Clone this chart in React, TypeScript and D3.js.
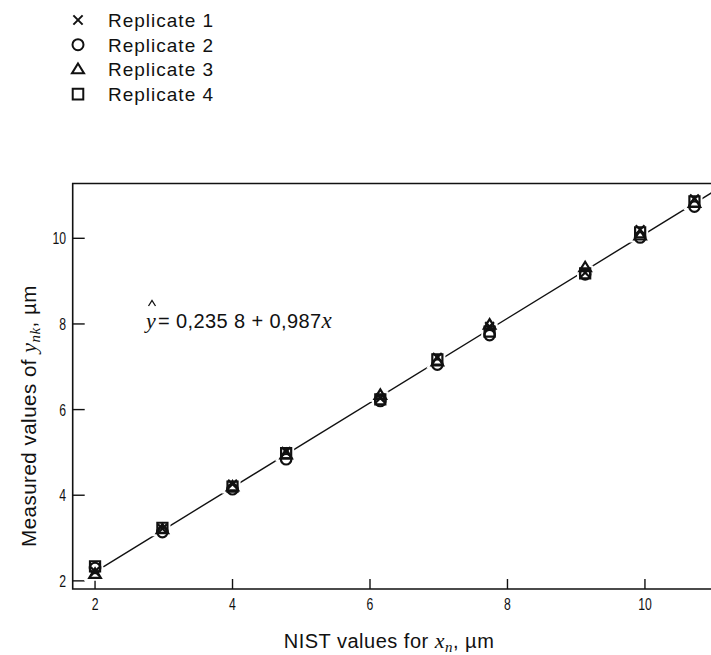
import React from "react";
import * as d3 from "d3";

const nistX = [2.0, 2.98, 4.0, 4.78, 6.15, 6.98, 7.74, 9.13, 9.93, 10.72];
const replicate1 = [2.22, 3.22, 4.26, 5.02, 6.27, 7.22, 7.94, 9.2, 10.2, 10.92];
const replicate2 = [2.3, 3.14, 4.14, 4.84, 6.2, 7.05, 7.74, 9.16, 10.02, 10.74];
const replicate3 = [2.16, 3.2, 4.2, 4.95, 6.34, 7.12, 7.98, 9.32, 10.06, 10.82];
const replicate4 = [2.34, 3.24, 4.2, 4.98, 6.24, 7.17, 7.82, 9.18, 10.14, 10.86];
const xTicks = [2, 4, 6, 8, 10];
const yTicks = [2, 4, 6, 8, 10];
const seriesNames = ["Replicate 1", "Replicate 2", "Replicate 3", "Replicate 4"];
const fitIntercept = 0.2358;
const fitSlope = 0.987;

const W = 711;
const H = 655;
const L = 72.7;
const R = 713;
const T = 183.5;
const B = 589;

const x = d3.scaleLinear().domain([1.675, 10.99]).range([L, R]);
const y = d3.scaleLinear().domain([1.81, 11.28]).range([B, T]);

function markerPath(kind: number, s: number): string {
  const p = d3.path();
  if (kind === 0) {
    const r = s * 0.42;
    p.moveTo(-r, -r); p.lineTo(r, r);
    p.moveTo(-r, r); p.lineTo(r, -r);
  } else if (kind === 1) {
    const r = s * 0.5;
    p.moveTo(r, 0); p.arc(0, 0, r, 0, Math.PI * 2);
  } else if (kind === 2) {
    const h = s * 0.9;
    const half = s * 0.55;
    p.moveTo(0, -h * 0.6); p.lineTo(half, h * 0.4); p.lineTo(-half, h * 0.4); p.closePath();
  } else {
    const r = s * 0.48;
    p.rect(-r, -r, 2 * r, 2 * r);
  }
  return p.toString();
}

export default function App() {
  const series = [replicate1, replicate2, replicate3, replicate4];
  const lineX0 = 2.12;
  const lineX1 = 11.0;
  const fit = d3.line<number>().x((d) => x(d)).y((d) => y(fitIntercept + fitSlope * d));
  const sans = "'Liberation Sans', Arial, Helvetica, sans-serif";
  const serif = "'Liberation Serif', 'Times New Roman', serif";
  const ms = 10.5;
  return (
    <svg width={W} height={H} style={{ position: "absolute", left: 0, top: 0, background: "#fff" }}>
      <rect x={0} y={0} width={W} height={H} fill="#fff" />
      {/* legend */}
      {seriesNames.map((name, i) => (
        <g key={name}>
          <path d={markerPath(i, 11)} transform={`translate(78,${20 + i * 24.7})`} fill="none" stroke="#111" strokeWidth={2} />
          <text x={108} y={27 + i * 24.7} fontFamily={sans} fontSize={19} fill="#111" letterSpacing={1}>{name}</text>
        </g>
      ))}
      {/* frame */}
      <path d={`M${R},${T}H${L}V${B}H${R}`} fill="none" stroke="#111" strokeWidth={1.6} />
      {/* ticks */}
      {xTicks.map((t) => (
        <g key={"x" + t}>
          <line x1={x(t)} x2={x(t)} y1={B} y2={B - 10} stroke="#111" strokeWidth={1.4} />
          <text transform={`translate(${x(t)},610) scale(0.72,1)`} textAnchor="middle" fontFamily={sans} fontSize={17} fill="#111">{t}</text>
        </g>
      ))}
      {yTicks.map((t) => (
        <g key={"y" + t}>
          <line x1={L} x2={L + 12} y1={y(t)} y2={y(t)} stroke="#111" strokeWidth={1.4} />
          <text transform={`translate(66,${y(t) + 6}) scale(0.72,1)`} textAnchor="end" fontFamily={sans} fontSize={17} fill="#111">{t}</text>
        </g>
      ))}
      {/* fitted line */}
      <path d={fit([lineX0, lineX1]) || ""} fill="none" stroke="#111" strokeWidth={1.4} />
      {/* halos */}
      {series.map((vals, si) =>
        vals.map((v, i) => (
          <path key={`h${si}-${i}`} d={markerPath(si, ms)} transform={`translate(${x(nistX[i])},${y(v)})`} fill="#fff" stroke="#fff" strokeWidth={6} />
        ))
      )}
      {series.map((vals, si) =>
        vals.map((v, i) => (
          <path key={`m${si}-${i}`} d={markerPath(si, ms)} transform={`translate(${x(nistX[i])},${y(v)})`} fill="none" stroke="#111" strokeWidth={2.2} />
        ))
      )}
      {/* equation */}
      <g fill="#111">
        <path d="M148.5,306 L152,300.5 L155.5,306" fill="none" stroke="#111" strokeWidth={1.3} />
        <text x={146} y={328} fontFamily={serif} fontStyle="italic" fontSize={22}>y</text>
        <text x={158} y={328} fontFamily={sans} fontSize={20} letterSpacing={0.4}>= 0,235 8 + 0,987<tspan fontFamily={serif} fontStyle="italic" fontSize={23}>x</tspan></text>
      </g>
      {/* axis titles */}
      <text x={389} y={648} textAnchor="middle" fontFamily={sans} fontSize={20} fill="#111" letterSpacing={0.5}>
        NIST values for <tspan fontFamily={serif} fontStyle="italic" fontSize={22}>x</tspan><tspan fontFamily={serif} fontStyle="italic" fontSize={15} dy={4}>n</tspan><tspan dy={-4}>, µm</tspan>
      </text>
      <text transform="translate(36,416) rotate(-90)" textAnchor="middle" fontFamily={sans} fontSize={20.5} fill="#111" letterSpacing={0.5}>
        Measured values of <tspan fontFamily={serif} fontStyle="italic" fontSize={22}>y</tspan><tspan fontFamily={serif} fontStyle="italic" fontSize={15} dy={4}>nk</tspan><tspan dy={-4}>, µm</tspan>
      </text>
    </svg>
  );
}
